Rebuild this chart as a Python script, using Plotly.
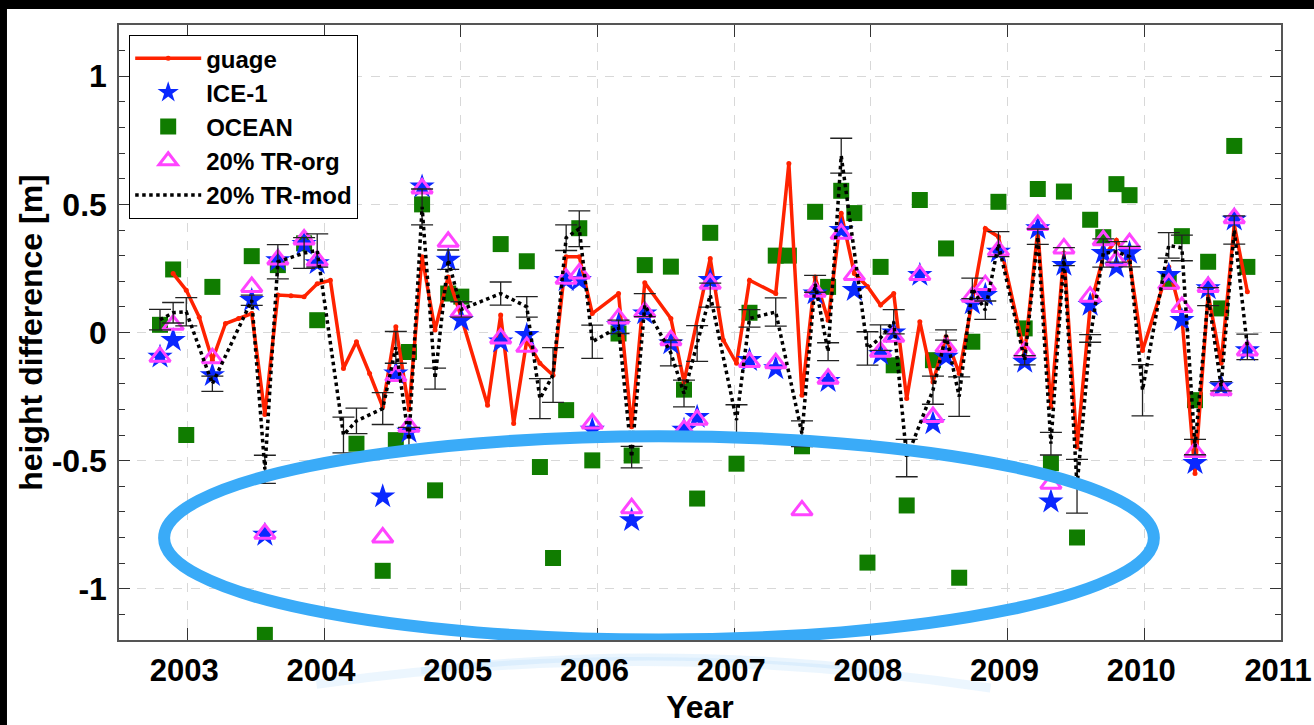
import plotly.graph_objects as go

# Decimal-year dates of the 35-day cycles
dates = [2002.800, 2002.896, 2002.992, 2003.087, 2003.183, 2003.279, 2003.375, 2003.471,
         2003.567, 2003.662, 2003.758, 2003.854, 2003.950, 2004.046, 2004.142, 2004.237,
         2004.333, 2004.429, 2004.525, 2004.621, 2004.717, 2004.812, 2004.908, 2005.004,
         2005.100, 2005.196, 2005.292, 2005.387, 2005.483, 2005.579, 2005.675, 2005.771,
         2005.867, 2005.962, 2006.058, 2006.154, 2006.250, 2006.346, 2006.442, 2006.537,
         2006.633, 2006.729, 2006.825, 2006.921, 2007.017, 2007.112, 2007.208, 2007.304,
         2007.400, 2007.496, 2007.592, 2007.687, 2007.783, 2007.879, 2007.975, 2008.071,
         2008.167, 2008.262, 2008.358, 2008.454, 2008.550, 2008.646, 2008.742, 2008.837,
         2008.933, 2009.029, 2009.125, 2009.221, 2009.317, 2009.412, 2009.508, 2009.604,
         2009.700, 2009.796, 2009.892, 2009.987, 2010.083, 2010.179, 2010.275, 2010.371,
         2010.467, 2010.562, 2010.658, 2010.754]

N = None
guage = [N, 0.23, 0.165, 0.06, -0.108, 0.035, 0.055, 0.074, -0.32, 0.146, 0.143, 0.14,
         0.19, 0.204, -0.14, -0.036, -0.16, -0.29, 0.022, -0.30, 0.296, 0.01, 0.217, 0.06,
         N, -0.284, 0.068, -0.355, -0.03, -0.12, -0.167, 0.296, 0.296, 0.074, N, 0.152,
         -0.368, 0.194, N, 0.055, -0.193, N, 0.289, -0.03, -0.12, 0.204, N, 0.152,
         0.66, -0.245, 0.217, 0.048, 0.465, 0.23, 0.18, 0.107, 0.152, -0.258, 0.042, -0.193,
         -0.017, -0.16, N, 0.406, 0.374, N, -0.082, 0.40, -0.29, 0.31, -0.447, 0.10,
         0.296, 0.36, 0.28, -0.07, N, 0.256, 0.06, -0.55, 0.15, -0.12, 0.42, 0.159]

tr_mod = [0.05, 0.077, 0.081, N, -0.20, N, N, 0.126, -0.534, 0.276, N, 0.31,
          0.32, N, -0.40, -0.345, N, -0.297, -0.058, -0.42, 0.49, -0.18, 0.284, 0.09,
          N, N, 0.152, N, 0.10, -0.258, -0.166, 0.37, 0.405, -0.036, N, 0.022,
          -0.486, 0.107, N, -0.08, -0.238, -0.043, 0.146, N, -0.342, 0.055, N, 0.08,
          N, -0.395, 0.19, -0.075, 0.69, N, -0.062, -0.02, 0.042, -0.49, N, -0.225,
          -0.01, -0.25, 0.172, 0.087, 0.345, N, -0.108, 0.374, -0.434, 0.296, -0.60, -0.023,
          0.31, 0.315, 0.296, -0.225, N, 0.34, 0.33, -0.447, 0.14, -0.21, 0.40, -0.056]

tr_mod_err = [0.04, 0.04, 0.055, N, 0.03, N, N, 0.02, 0.055, 0.067, N, 0.06,
              0.065, N, 0.07, 0.05, N, 0.062, 0.062, 0.05, 0.07, 0.041, 0.038, 0.03,
              N, N, 0.045, N, 0.04, 0.078, 0.107, 0.05, 0.07, 0.065, N, 0.026,
              0.042, 0.045, N, 0.05, 0.052, 0.07, 0.047, N, 0.06, 0.034, N, 0.055,
              N, 0.05, 0.033, 0.035, 0.068, N, 0.065, 0.05, 0.047, 0.073, N, 0.055,
              0.02, 0.077, 0.04, 0.036, 0.049, N, 0.018, 0.03, 0.044, 0.035, 0.105, 0.015,
              0.055, 0.04, 0.04, 0.10, N, 0.05, 0.05, 0.03, 0.035, 0.018, 0.055, 0.05]

ice1 = [-0.095, -0.03, N, N, -0.167, N, N, 0.126, -0.79, 0.282, N, 0.345,
        0.27, N, N, N, N, -0.64, -0.16, -0.388, 0.569, N, 0.283, 0.048,
        N, N, -0.036, N, -0.01, N, N, 0.204, 0.204, -0.38, N, 0.029,
        -0.733, 0.074, N, -0.043, -0.38, -0.33, 0.204, N, N, -0.108, N, -0.14,
        N, N, 0.152, -0.19, 0.40, 0.165, N, -0.085, 0.0, N, 0.224, -0.355,
        -0.095, N, 0.113, 0.146, 0.315, N, -0.115, 0.406, -0.66, 0.263, N, 0.107,
        0.31, 0.256, 0.31, N, N, 0.224, 0.048, -0.51, 0.172, -0.21, 0.44, -0.07]

tr_org = [-0.095, 0.03, N, N, -0.10, N, N, 0.178, -0.785, 0.285, N, 0.363,
          0.28, N, N, N, N, -0.80, -0.17, -0.368, 0.562, N, 0.354, 0.081,
          N, N, -0.023, N, -0.056, N, N, 0.21, 0.23, -0.355, N, 0.055,
          -0.686, 0.08, N, -0.03, -0.38, -0.34, 0.19, N, N, -0.115, N, -0.12,
          N, -0.694, 0.159, -0.18, 0.385, 0.224, N, -0.075, -0.017, N, 0.224, -0.33,
          -0.056, N, 0.14, 0.185, 0.32, N, -0.076, 0.42, -0.59, 0.328, N, 0.14,
          0.36, 0.28, 0.348, N, N, 0.19, 0.10, -0.466, 0.178, -0.225, 0.446, -0.07]

ocean = [0.03, 0.246, -0.40, N, 0.178, N, N, 0.298, -1.18, 0.263, N, 0.348,
         0.048, N, N, -0.434, N, -0.93, -0.42, -0.076, 0.50, -0.616, 0.152, 0.14,
         N, N, 0.345, N, 0.278, -0.525, -0.88, -0.303, 0.407, -0.499, N, -0.004,
         -0.48, 0.263, N, 0.257, -0.223, -0.648, 0.389, N, -0.512, 0.077, N, 0.30,
         0.30, -0.444, 0.471, 0.178, 0.553, 0.466, -0.898, 0.256, -0.128, -0.675, 0.517, -0.108,
         0.328, -0.957, -0.036, N, 0.51, N, 0.016, 0.56, -0.51, 0.55, -0.80, 0.44,
         0.372, 0.579, 0.536, N, N, 0.198, 0.376, -0.264, 0.276, 0.094, 0.728, 0.256]

x_tick_vals = [2003, 2004, 2005, 2006, 2007, 2008, 2009, 2010, 2011]
x_tick_text = ["2003", "2004", "2005", "2006", "2007", "2008", "2009", "2010", "2011"]
y_tick_vals = [-1, -0.5, 0, 0.5, 1]
y_tick_text = ["-1", "-0.5", "0", "0.5", "1"]

FONT = "Liberation Sans, Arial, Helvetica, sans-serif"

fig = go.Figure()

fig.add_trace(go.Scatter(
    x=dates, y=ocean, mode="markers", name="OCEAN", legendrank=3,
    marker=dict(symbol="square", size=16, color="#107c00", line=dict(width=0))))

fig.add_trace(go.Scatter(
    x=dates, y=guage, mode="lines+markers", name="guage", legendrank=1,
    connectgaps=True,
    line=dict(color="#ff2200", width=3.5),
    marker=dict(symbol="circle", size=5, color="#ff2200")))

fig.add_trace(go.Scatter(
    x=dates, y=ice1, mode="markers", name="ICE-1", legendrank=2,
    marker=dict(symbol="star", size=19, color="#0a28ff", line=dict(width=0))))

fig.add_trace(go.Scatter(
    x=dates, y=tr_org, mode="markers", name="20% TR-org", legendrank=4,
    marker=dict(symbol="triangle-up-open", size=18, color="#ff44ff",
                line=dict(width=3, color="#ff44ff"))))

fig.add_trace(go.Scatter(
    x=dates, y=tr_mod, mode="lines", name="20% TR-mod", legendrank=5,
    connectgaps=True,
    line=dict(color="black", width=3.5, dash="dot"),
    error_y=dict(type="data", array=tr_mod_err, symmetric=True,
                 color="#222222", thickness=1.3, width=11)))

tick_font = dict(family=FONT, size=32, color="black", weight="bold")
xtick_font = dict(family=FONT, size=31, color="black", weight="bold")
title_font = dict(family=FONT, size=32, color="black", weight="bold")

fig.update_xaxes(
    range=[2002.5, 2011], tickmode="array", tickvals=x_tick_vals, ticktext=x_tick_text,
    ticks="inside", ticklen=12, tickwidth=1.3, tickcolor="#333333",
    showgrid=True, gridcolor="#d8d8d8", griddash="dash", gridwidth=1,
    showline=True, linecolor="#555555", linewidth=1.5, mirror="ticks",
    zeroline=False, tickfont=xtick_font, ticklabelstandoff=2, automargin=False,
    ticklabeloverflow="allow", ticklabelshift=-3,
    title=dict(text="Year", font=title_font, standoff=12))

fig.update_yaxes(
    range=[-1.2, 1.2], tickmode="array", tickvals=y_tick_vals, ticktext=y_tick_text,
    ticks="inside", ticklen=11, tickwidth=1.3, tickcolor="#333333",
    minor=dict(tickmode="linear", tick0=0, dtick=0.1, ticks="inside", ticklen=6,
               tickwidth=1.2, tickcolor="#333333", showgrid=False),
    showgrid=True, gridcolor="#d8d8d8", griddash="dash", gridwidth=1,
    showline=True, linecolor="#555555", linewidth=1.5, mirror="ticks",
    zeroline=False, tickfont=tick_font, ticklabelstandoff=4, automargin=False,
    ticklabeloverflow="allow",
    title=dict(text="height difference [m]", font=title_font, standoff=0))

# highlight ellipse and its faint reflection
fig.add_shape(type="circle", xref="x", yref="y", x0=2002.83, x1=2010.07, y0=-1.198, y1=-0.405,
              line=dict(color="#3aabf8", width=12), layer="above")
fig.add_shape(type="path", xref="paper", yref="paper",
              path="M 0.17,-0.072 Q 0.4528,0.005 0.75,-0.078",
              line=dict(color="rgba(170,215,250,0.22)", width=9), layer="below")
fig.add_shape(type="path", xref="paper", yref="paper",
              path="M 0.26,-0.05 Q 0.4528,-0.005 0.66,-0.05",
              line=dict(color="rgba(170,215,250,0.25)", width=7), layer="below")

# black bands at the top and left edge of the picture
fig.add_shape(type="rect", xref="paper", yref="paper", x0=-0.2, x1=1.2, y0=1.026, y1=1.1,
              fillcolor="black", line=dict(width=0), layer="above")
fig.add_shape(type="rect", xref="paper", yref="paper", x0=-0.2, x1=-0.0964, y0=-0.3, y1=1.1,
              fillcolor="black", line=dict(width=0), layer="above")

fig.update_layout(
    width=1314, height=725,
    margin=dict(l=119, r=33, t=25, b=85),
    paper_bgcolor="white", plot_bgcolor="white",
    font=dict(family=FONT, color="black"),
    showlegend=True,
    legend=dict(x=0.0086, y=0.984, xanchor="left", yanchor="top",
                bgcolor="white", bordercolor="black", borderwidth=1.2,
                font=dict(family=FONT, size=24, color="black", weight="bold"),
                itemwidth=66, tracegroupgap=0, traceorder="normal"),
)

fig.write_html("out.html")
